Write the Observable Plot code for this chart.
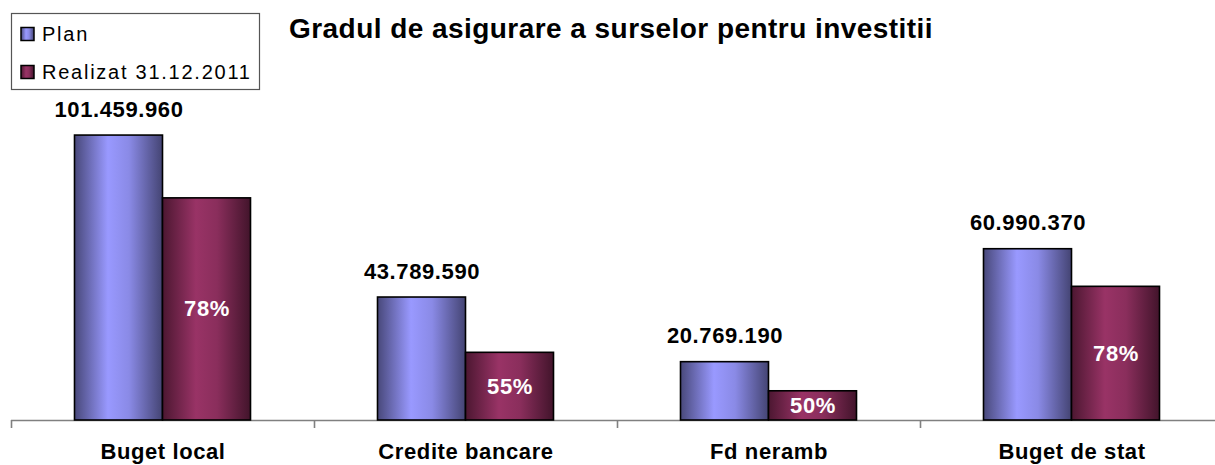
<!DOCTYPE html>
<html>
<head>
<meta charset="utf-8">
<script src="https://cdn.jsdelivr.net/npm/d3@7"></script>
<script src="https://cdn.jsdelivr.net/npm/@observablehq/plot@0.6"></script>
<style>
  html, body { margin: 0; padding: 0; background: #fff; }
  #wrap { position: relative; width: 1215px; height: 465px; overflow: hidden; font-family: "Liberation Sans", Arial, sans-serif; }
  #chart svg { display: block; }
  #overlay { position: absolute; left: 0; top: 0; pointer-events: none; }
</style>
</head>
<body>
<div id="wrap">
  <div id="chart"></div>
  <svg id="overlay" width="1215" height="100"></svg>
</div>
<script>
// ---- data ----
const categories = ["Buget local", "Credite bancare", "Fd neramb", "Buget de stat"];
const planValues = [101459960, 43789590, 20769190, 60990370];
const realizatValues = [79100000, 24100000, 10400000, 47600000];
const realizatPct = ["78%", "55%", "50%", "78%"];
const seriesNames = ["Plan", "Realizat 31.12.2011"];
const titleText = "Gradul de asigurare a surselor pentru investitii";

// ---- derived tables ----
const plan = categories.map((c, i) => ({cat: c, value: planValues[i]}));
const real = categories.map((c, i) => ({cat: c, value: realizatValues[i], pct: realizatPct[i]}));

const fmt = d3.formatLocale({decimal: ",", thousands: ".", grouping: [3], currency: ["", ""]}).format(",d");

const W = 1223, H = 465, mTop = 83, mBottom = 45;
const yMax = 120e6;
const plotH = H - mTop - mBottom;
const tickVal = 8 * yMax / plotH;
const FONT = "Liberation Sans, Arial, sans-serif";

const chart = Plot.plot({
  width: W,
  height: H,
  marginLeft: 11,
  marginRight: 0,
  marginTop: mTop,
  marginBottom: mBottom,
  style: {fontFamily: FONT, fontSize: "22px", fontWeight: "bold", color: "#000", background: "transparent", maxWidth: "none", overflow: "visible", letterSpacing: "0.6px"},
  x: {domain: categories, padding: 0, label: null, tickSize: 0, tickPadding: 23},
  y: {domain: [0, yMax], axis: null},
  marks: [
    Plot.ruleY([0], {stroke: "#808080", strokeWidth: 1.6}),
    Plot.ruleX(categories, {x: d => d, y1: 0, y2: -tickVal, dx: -151.5, stroke: "#808080", strokeWidth: 1.6}),
    Plot.barY(plan, {x: "cat", y: "value", fill: "url(#gPlan)", stroke: "#000", strokeWidth: 1.6, insetLeft: 63.5, insetRight: 151.5}),
    Plot.barY(real, {x: "cat", y: "value", fill: "url(#gReal)", stroke: "#000", strokeWidth: 1.6, insetLeft: 151.5, insetRight: 63.5}),
    Plot.text(plan, {x: "cat", y: "value", text: d => fmt(d.value), dx: -44, dy: -19, lineAnchor: "bottom", fontSize: 22, fontWeight: "bold", fill: "#000"}),
    Plot.text(real, {x: "cat", y: d => d.value / 2, text: "pct", dx: 44, lineAnchor: "middle", fontSize: 22, fontWeight: "bold", fill: "#fff"})
  ]
});
document.getElementById("chart").appendChild(chart);

// gradients (style)
const svg = d3.select(chart);
const defs = svg.insert("defs", ":first-child");
function grad(id, stops) {
  const g = defs.append("linearGradient").attr("id", id).attr("x1", "0").attr("x2", "1").attr("y1", "0").attr("y2", "0");
  stops.forEach(([o, c]) => g.append("stop").attr("offset", o).attr("stop-color", c));
}
grad("gPlan", [[0, "#48487a"], [0.38, "#9999ff"], [0.62, "#8a8ae6"], [1, "#444473"]]);
grad("gReal", [[0, "#4c1731"], [0.38, "#993366"], [0.62, "#8a2e5c"], [1, "#42142b"]]);

// title + legend overlay
const ov = d3.select("#overlay");
ov.append("text").attr("x", 289).attr("y", 38).attr("font-family", FONT).attr("font-size", 28)
  .attr("font-weight", "bold").attr("letter-spacing", "0.45px").attr("fill", "#000").text(titleText);
ov.append("rect").attr("x", 11.5).attr("y", 13.5).attr("width", 248).attr("height", 76)
  .attr("fill", "#fff").attr("stroke", "#555").attr("stroke-width", 1.2);
const legendFills = ["url(#gPlan)", "url(#gReal)"];
seriesNames.forEach((s, i) => {
  const yb = 41 + i * 38;
  ov.append("rect").attr("x", 21).attr("y", yb - 13.5).attr("width", 13).attr("height", 13)
    .attr("fill", legendFills[i]).attr("stroke", "#000").attr("stroke-width", 1.5);
  ov.append("text").attr("x", 42).attr("y", yb).attr("font-family", FONT).attr("font-size", 20)
    .attr("letter-spacing", "1.75px").attr("fill", "#000").text(s);
});
</script>
</body>
</html>
